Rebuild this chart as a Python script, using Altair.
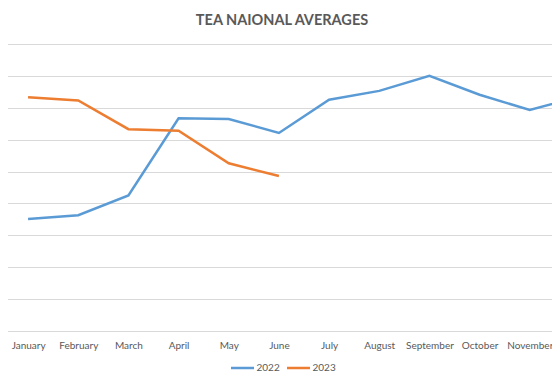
import altair as alt
import pandas as pd

months = ["January", "February", "March", "April", "May", "June",
          "July", "August", "September", "October", "November", "December"]
avg_2022 = [3.51, 3.63, 4.25, 6.67, 6.65, 6.21, 7.25, 7.53, 8.00, 7.41, 6.93, 7.35]
avg_2023 = [7.33, 7.23, 6.33, 6.28, 5.26, 4.86]
years = ["2022", "2023"]
y_ticks = [0, 1, 2, 3, 4, 5, 6, 7, 8, 9]

rows = []
for m, v in zip(months, avg_2022):
    rows.append({"Month": m, "Year": "2022", "Average": v})
for m, v in zip(months, avg_2023):
    rows.append({"Month": m, "Year": "2023", "Average": v})
df = pd.DataFrame(rows)

chart = alt.Chart(df).mark_line(strokeWidth=2.5).encode(
    x=alt.X("Month:N", sort=months,
            scale=alt.Scale(type="point", padding=0.5),
            axis=alt.Axis(title=None, labelAngle=0, ticks=False, grid=False,
                          domainColor="#D9D9D9", labelColor="#595959",
                          labelFont="Lato", labelFontSize=10, labelPadding=9)),
    y=alt.Y("Average:Q", scale=alt.Scale(domain=[0, 9], nice=False),
            axis=alt.Axis(title=None, labels=False, ticks=False, domain=False,
                          values=y_ticks, gridColor="#D9D9D9")),
    color=alt.Color("Year:N",
                    scale=alt.Scale(domain=years, range=["#5B9BD5", "#ED7D31"]),
                    legend=alt.Legend(title=None, orient="none", legendX=226.5, legendY=311,
                                      direction="horizontal", symbolType="stroke",
                                      symbolSize=529, symbolStrokeWidth=2.5,
                                      labelFont="Lato", labelFontSize=10,
                                      labelColor="#595959", columnPadding=1,
                                      labelOffset=1)),
).properties(
    width=602, height=287,
    title=alt.TitleParams("TEA NAIONAL AVERAGES", anchor="middle", dx=-22,
                          font="Lato", fontSize=14.5, fontWeight="bold",
                          color="#595959", baseline="alphabetic", offset=5),
    padding={"left": -5, "top": 36, "right": -53, "bottom": 45},
    autosize=alt.AutoSizeParams(type="none"),
).configure_view(stroke=None)

chart.save("out.html", embed_options={"renderer": "svg", "actions": False})
